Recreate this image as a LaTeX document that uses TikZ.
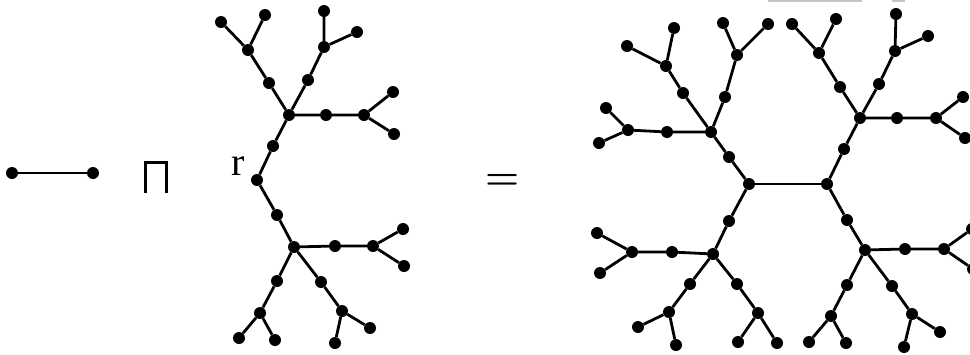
\documentclass[tikz,border=0pt]{standalone}
\usepackage{fontspec}
\newfontfamily\rfont{Liberation Serif}
\begin{document}
\begin{tikzpicture}[x=1pt,y=-1pt,
  vtx/.style={circle,fill=black,inner sep=0pt,minimum size=12pt},
  edge/.style={line width=2.8pt,black},
  lbl/.style={inner sep=0pt,anchor=base}]
\useasboundingbox (0,0) rectangle (970,354);
\clip (0,0) rectangle (970,354);
\fill[white] (0,0) rectangle (970,354);
% artifact bars at top
\draw[gray!45,line width=1.5pt] (768,0.8) -- (862,0.8);
\draw[gray!45,line width=1.5pt] (892,0.8) -- (905,0.8);

% ---------- K2 ----------
\node[vtx] (k1) at (12,173) {};
\node[vtx] (k2) at (93,173) {};
\draw[edge] (k1) -- (k2);

% ---------- product symbol ----------
\draw[line width=2.6pt] (145.5,193) -- (145.5,162.5) -- (166.5,162.5) -- (166.5,193);

% ---------- tree T ----------
\node[lbl] (rl) at (238.5,175) {\fontsize{40}{40}\selectfont\rfont r};
\foreach \n/\x/\y in {
  r/257/180, tm1/273/146, ta/289/115,
  tm2/269/83, tb1/248/50, tl1/221/22, tl2/265/15,
  tm3/308/80, tb2/324/47, tl3/324/11, tl4/357/32,
  tm4/326/115, tb3/364/115, tl5/393/92, tl6/394/134,
  tm5/277/215, tc/294/247,
  tm6/335/246, tb4/373/246, tl7/403/229, tl8/404/266,
  tm7/277/281, tb5/260/313, tl9/239/338, tl10/275/340,
  tm8/321/282, tb6/342/311, tl11/335/343, tl12/370/328}
  {\node[vtx] (\n) at (\x,\y) {};}
\draw[edge] (r) -- (tm1) -- (ta);
\draw[edge] (ta) -- (tm2) -- (tb1) -- (tl1);
\draw[edge] (tb1) -- (tl2);
\draw[edge] (ta) -- (tm3) -- (tb2) -- (tl3);
\draw[edge] (tb2) -- (tl4);
\draw[edge] (ta) -- (tm4) -- (tb3) -- (tl5);
\draw[edge] (tb3) -- (tl6);
\draw[edge] (r) -- (tm5) -- (tc);
\draw[edge] (tc) -- (tm6) -- (tb4) -- (tl7);
\draw[edge] (tb4) -- (tl8);
\draw[edge] (tc) -- (tm7) -- (tb5) -- (tl9);
\draw[edge] (tb5) -- (tl10);
\draw[edge] (tc) -- (tm8) -- (tb6) -- (tl11);
\draw[edge] (tb6) -- (tl12);

% ---------- equals ----------
\node[lbl] (eq) at (503,189) {\fontsize{39}{39}\selectfont\bfseries =};

% ---------- product graph ----------
\foreach \n/\x/\y in {
  hL/749/184, hR/827/184,
  A/711/132, am0/729/157,
  am1/683/93, ab1/666/66, al1/627/46, al2/674/28,
  am2/725/97, ab2/737/55, al3/723/23, al4/768/24,
  am3/667/132, ab3/628/130, al5/606/108, al6/599/143,
  B/860/118, bm0/844/149,
  bm1/840/87, bb1/819/53, bl1/792/24, bl2/836/19,
  bm2/879/84, bb2/895/51, bl3/896/14, bl4/928/36,
  bm3/897/118, bb3/936/118, bl5/963/97, bl6/965/138,
  C/713/254, cm0/729/221,
  cm1/672/252, cb1/632/252, cl1/597/233, cl2/600/273,
  cm2/690/284, cb2/669/312, cl3/638/327, cl4/676/345,
  cm3/737/284, cb3/758/313, cl5/738/342, cl6/777/343,
  D/865/250, dm0/847/220,
  dm1/905/249, db1/944/249, dl1/972/229, dl2/973/269,
  dm2/847/285, db2/831/316, dl3/809/342, dl4/846/343,
  dm3/892/286, db3/912/314, dl5/904/347, dl6/940/332}
  {\node[vtx] (\n) at (\x,\y) {};}
\draw[edge] (hL) -- (hR);
\draw[edge] (hL) -- (am0) -- (A);
\draw[edge] (hL) -- (cm0) -- (C);
\draw[edge] (hR) -- (bm0) -- (B);
\draw[edge] (hR) -- (dm0) -- (D);
\draw[edge] (A) -- (am1) -- (ab1) -- (al1);
\draw[edge] (ab1) -- (al2);
\draw[edge] (A) -- (am2) -- (ab2) -- (al3);
\draw[edge] (ab2) -- (al4);
\draw[edge] (A) -- (am3) -- (ab3) -- (al5);
\draw[edge] (ab3) -- (al6);
\draw[edge] (B) -- (bm1) -- (bb1) -- (bl1);
\draw[edge] (bb1) -- (bl2);
\draw[edge] (B) -- (bm2) -- (bb2) -- (bl3);
\draw[edge] (bb2) -- (bl4);
\draw[edge] (B) -- (bm3) -- (bb3) -- (bl5);
\draw[edge] (bb3) -- (bl6);
\draw[edge] (C) -- (cm1) -- (cb1) -- (cl1);
\draw[edge] (cb1) -- (cl2);
\draw[edge] (C) -- (cm2) -- (cb2) -- (cl3);
\draw[edge] (cb2) -- (cl4);
\draw[edge] (C) -- (cm3) -- (cb3) -- (cl5);
\draw[edge] (cb3) -- (cl6);
\draw[edge] (D) -- (dm1) -- (db1) -- (dl1);
\draw[edge] (db1) -- (dl2);
\draw[edge] (D) -- (dm2) -- (db2) -- (dl3);
\draw[edge] (db2) -- (dl4);
\draw[edge] (D) -- (dm3) -- (db3) -- (dl5);
\draw[edge] (db3) -- (dl6);
\end{tikzpicture}
\end{document}
